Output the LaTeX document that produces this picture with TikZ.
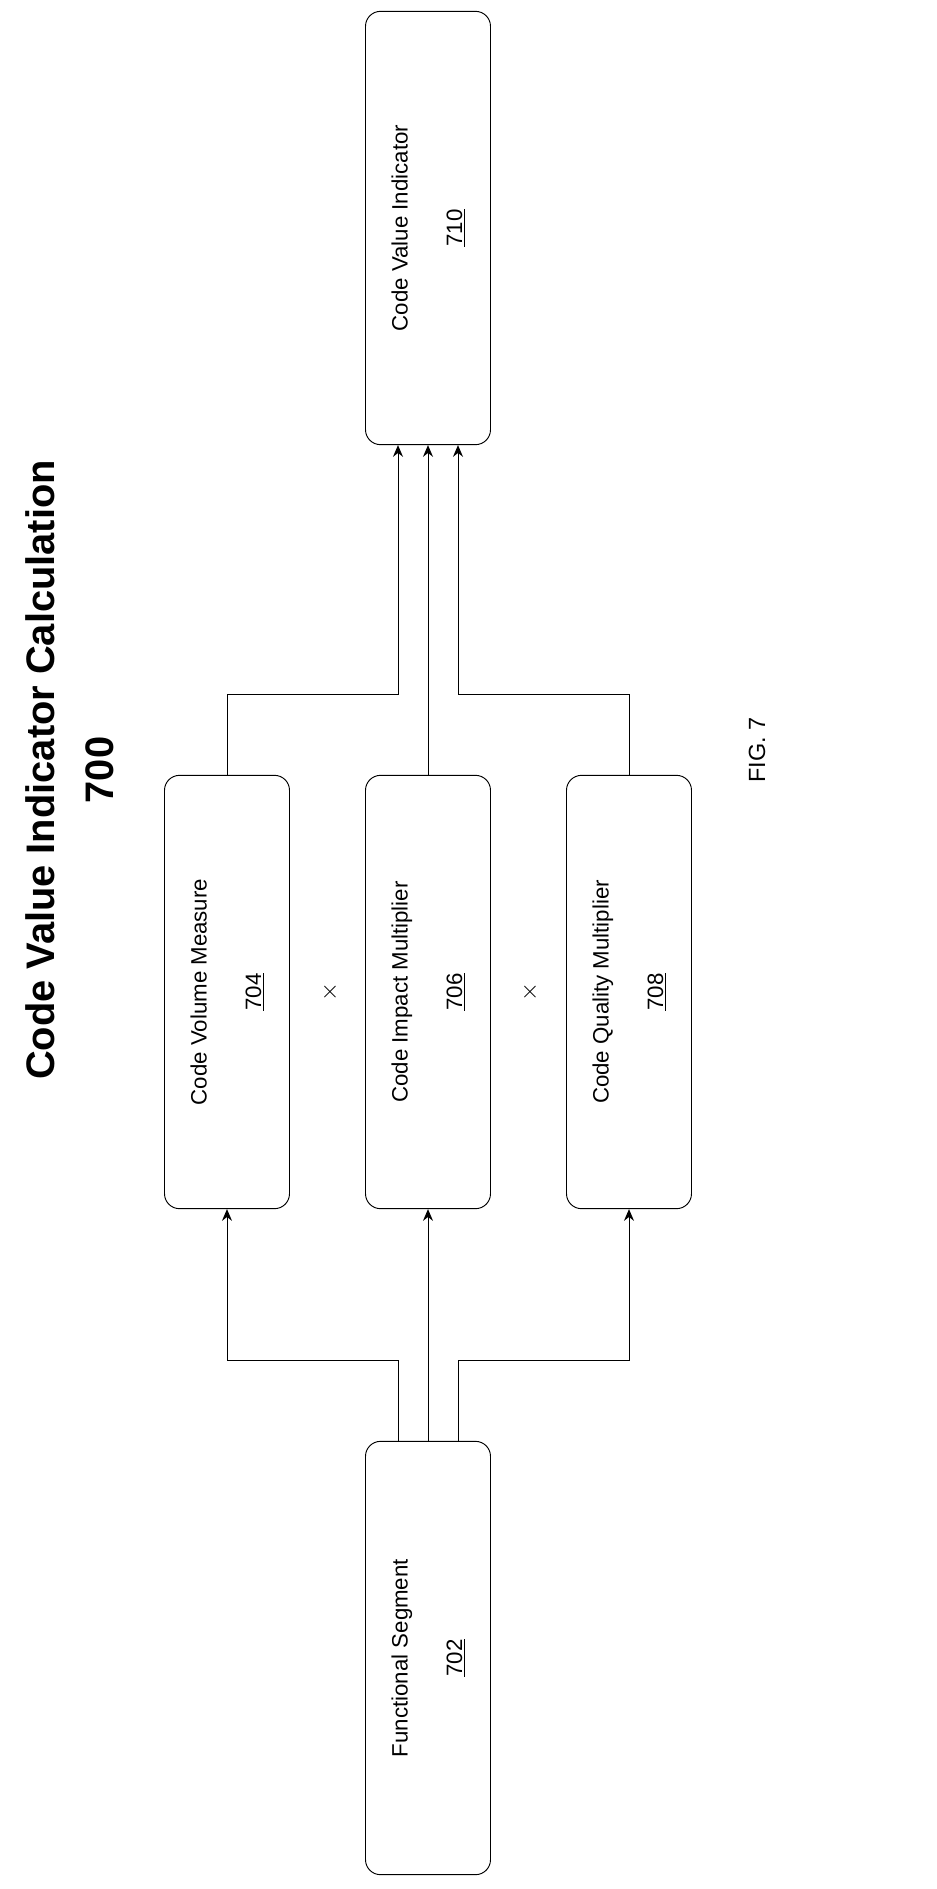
\documentclass[tikz,border=0pt]{standalone}
\usepackage{fontspec}
\setmainfont{Liberation Sans}
\usetikzlibrary{arrows.meta,calc}
\begin{document}
\begin{tikzpicture}[x=0.3mm,y=-0.3mm]
        \tikzstyle{block}=[draw,thick,rounded corners=4.5mm,rotate=90,minimum width=130mm,minimum height=37.5mm,align=center,font=\fontsize{19}{38}\selectfont]
        \tikzstyle{edge}=[draw,thick,-{Stealth[length=3.5mm,width=3mm]}]
        \useasboundingbox (0,0) rectangle (937,1889);
        \node [rotate=90,font=\fontsize{34}{40}\selectfont\bfseries] (title) at (40,770) {Code Value Indicator Calculation};
        \node [rotate=90,font=\fontsize{34}{40}\selectfont\bfseries] (num) at (100,770) {700};
        \node [block] (fs) at (428,1658) {Functional Segment\\[3mm]\underline{702}};
        \node [block] (cvm) at (227,992) {Code Volume Measure\\[3mm]\underline{704}};
        \node [block] (cim) at (428,992) {Code Impact Multiplier\\[3mm]\underline{706}};
        \node [block] (cqm) at (629,992) {Code Quality Multiplier\\[3mm]\underline{708}};
        \node [block] (cvi) at (428,228) {Code Value Indicator\\[3mm]\underline{710}};
        \node [rotate=90,font=\fontsize{20}{24}\selectfont] (x1) at (330,992) {$\times$};
        \node [rotate=90,font=\fontsize{20}{24}\selectfont] (x2) at (530,992) {$\times$};
        \node [rotate=90,font=\fontsize{20}{24}\selectfont] (fig) at (757,750) {FIG. 7};
        \path[edge] ($(fs.east)+(-30,0)$) -- ++(0,-80) -| (cvm.west);
        \path[edge] (fs.east) -- (cim.west);
        \path[edge] ($(fs.east)+(30,0)$) -- ++(0,-80) -| (cqm.west);
        \path[edge] (cvm.east) -- ++(0,-80) -| ($(cvi.west)+(-30,0)$);
        \path[edge] (cim.east) -- (cvi.west);
        \path[edge] (cqm.east) -- ++(0,-80) -| ($(cvi.west)+(30,0)$);
\end{tikzpicture}
\end{document}
